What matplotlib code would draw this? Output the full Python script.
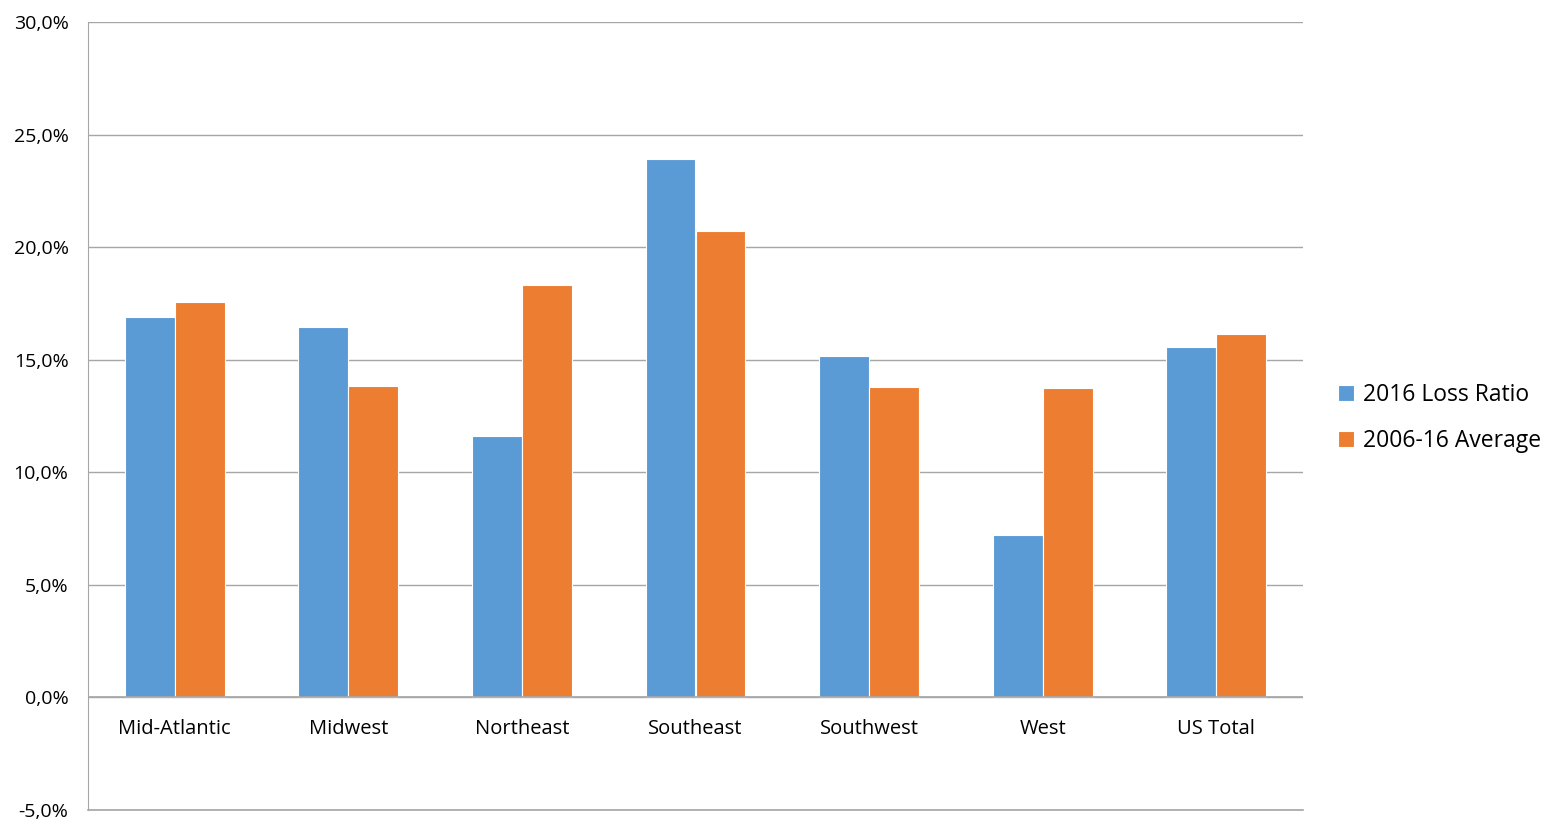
import matplotlib
matplotlib.use("Agg")
import matplotlib.pyplot as plt
import numpy as np
from matplotlib.ticker import FuncFormatter, MultipleLocator

categories = ["Mid-Atlantic", "Midwest", "Northeast", "Southeast", "Southwest", "West", "US Total"]
loss_2016 = [16.9, 16.45, 11.6, 23.9, 15.15, 7.2, 15.55]
avg_0616 = [17.55, 13.85, 18.3, 20.7, 13.8, 13.75, 16.15]
series_names = ["2016 Loss Ratio", "2006-16 Average"]

blue = "#5B9BD5"
orange = "#ED7D31"
grid_c = "#A6A6A6"

plt.rcParams['font.family'] = ['Open Sans', 'DejaVu Sans']

fig = plt.figure(figsize=(15.49, 8.21), dpi=100)
ax = fig.add_axes([88/1549, 1 - 810/821, (1303-88)/1549, (810-22)/821])

x = np.arange(len(categories))
w = 0.288
ax.bar(x - w/2, loss_2016, w, color=blue, edgecolor="white", linewidth=0.8, label=series_names[0], zorder=3)
ax.bar(x + w/2, avg_0616, w, color=orange, edgecolor="white", linewidth=0.8, label=series_names[1], zorder=3)

ax.set_xlim(-0.5, len(categories) - 0.5)
ax.set_ylim(-5, 30)
ax.yaxis.set_major_locator(MultipleLocator(5))
ax.yaxis.set_major_formatter(FuncFormatter(lambda v, p: f"{v:.1f}%".replace(".", ",")))
ax.grid(axis="y", color=grid_c, linewidth=1, zorder=0)
ax.axhline(0, color=grid_c, linewidth=1.2, zorder=4)
ax.axhline(-5, color=grid_c, linewidth=1.2, zorder=4, clip_on=False)

for s in ["top", "right", "bottom"]:
    ax.spines[s].set_visible(False)
ax.spines["left"].set_color(grid_c)
ax.tick_params(axis="y", length=0, pad=14, labelsize=14, labelcolor="#000000")
ax.set_xticks([])
for i, c in enumerate(categories):
    ax.text(i, -0.95, c, ha="center", va="top", fontsize=14.5, color="#000000")

leg = fig.legend(loc="center left", bbox_to_anchor=(1317/1549, 1 - 418/821), frameon=False,
                 fontsize=16.5, handlelength=0.7, handleheight=0.7, handletextpad=0.4, labelspacing=0.95)

fig.savefig("out.png", dpi=100)
